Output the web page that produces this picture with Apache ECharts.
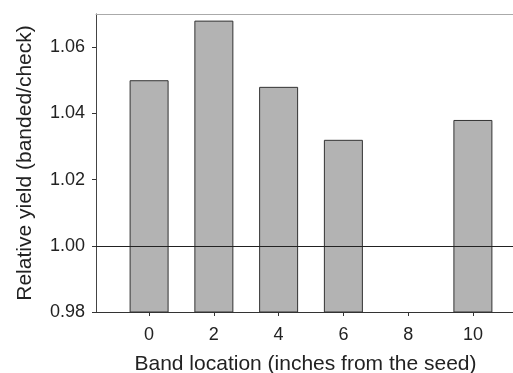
<!DOCTYPE html>
<html>
<head>
<meta charset="utf-8">
<script src="https://cdn.jsdelivr.net/npm/echarts@6/dist/echarts.min.js"></script>
<style>html,body{margin:0;padding:0;background:#fff}#c{width:513px;height:373px}</style>
</head>
<body>
<div id="c"></div>
<script>
var bandLocations = [0, 2, 4, 6, 10];
var relativeYield = [1.050, 1.068, 1.048, 1.032, 1.038];
var xTicks = [0, 2, 4, 6, 8, 10];
var yTicks = [0.98, 1.00, 1.02, 1.04, 1.06];
var referenceLine = 1.00;

var chart = echarts.init(document.getElementById('c'), null, {renderer: 'canvas'});
var font = 'Liberation Sans, Arial, sans-serif';
chart.setOption({
  animation: false,
  grid: {left: 96, top: 14, right: -2, bottom: 61, show: false, containLabel: false, outerBoundsMode: 'none'},
  xAxis: [{
    type: 'value', min: -1.64, max: 11.3,
    axisLine: {show: true, onZero: false, lineStyle: {color: '#333', width: 1}},
    axisTick: {show: true, length: 4, inside: false, customValues: xTicks, lineStyle: {color: '#333'}},
    axisLabel: {show: true, customValues: xTicks, margin: 14, color: '#222', fontSize: 18, fontFamily: font},
    splitLine: {show: false},
    name: 'Band location (inches from the seed)', nameLocation: 'middle', nameGap: 42,
    nameTextStyle: {color: '#222', fontSize: 21, fontFamily: font}
  }, {
    type: 'value', position: 'top', min: -1.64, max: 11.3,
    axisLine: {show: true, onZero: false, lineStyle: {color: '#aaa', width: 1}},
    axisTick: {show: false}, axisLabel: {show: false}, splitLine: {show: false}
  }],
  yAxis: {
    type: 'value', min: 0.98, max: 1.07,
    axisLine: {show: true, onZero: false, lineStyle: {color: '#444', width: 1}},
    axisTick: {show: true, length: 4, customValues: yTicks, lineStyle: {color: '#333'}},
    axisLabel: {show: true, customValues: yTicks, margin: 11, color: '#222', fontSize: 18, fontFamily: font,
      formatter: function (v) { return v.toFixed(2); }},
    splitLine: {show: false},
    name: 'Relative yield (banded/check)', nameLocation: 'middle', nameGap: 60,
    nameTextStyle: {color: '#222', fontSize: 21, fontFamily: font}
  },
  series: [{
    type: 'bar', xAxisIndex: 0,
    data: bandLocations.map(function (x, i) { return [x, relativeYield[i]]; }),
    barWidth: 39,
    itemStyle: {color: '#b3b3b3', borderColor: '#333', borderWidth: 1},
    markLine: {
      silent: true, symbol: 'none', label: {show: false},
      lineStyle: {color: '#222', width: 1, type: 'solid'},
      data: [{yAxis: referenceLine}]
    }
  }]
});
</script>
</body>
</html>
